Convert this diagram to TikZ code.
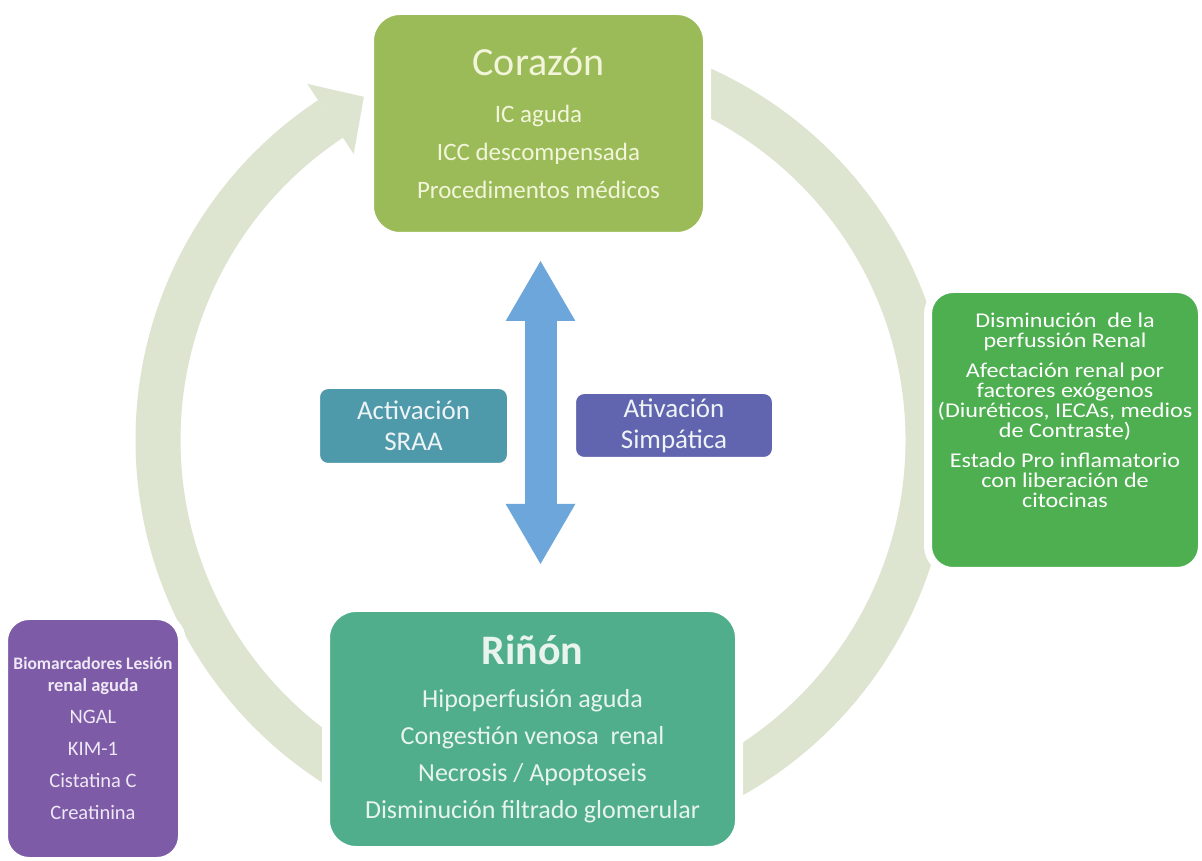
\documentclass[tikz,border=0pt]{standalone}
\usepackage{fontspec}
\setmainfont{Carlito}
\newfontfamily\widefont{Carlito}[FakeStretch=1.15]
\usetikzlibrary{arrows.meta}
\definecolor{ringc}{HTML}{DDE4D0}
\definecolor{corc}{HTML}{9BBB59}
\definecolor{cortxt}{HTML}{F2F5DA}
\definecolor{grnc}{HTML}{4DAF50}
\definecolor{rinc}{HTML}{50AE8C}
\definecolor{rintxt}{HTML}{E8F4EC}
\definecolor{purc}{HTML}{7D5BA6}
\definecolor{purtxt}{HTML}{EFE8F6}
\definecolor{sraac}{HTML}{4F9AAA}
\definecolor{simc}{HTML}{6165AF}
\definecolor{midtxt}{HTML}{EEF4F6}
\definecolor{dblc}{HTML}{6CA6DA}
\begin{document}
\begin{tikzpicture}[x=1pt,y=1pt,
  box/.style={rectangle, draw=white, line width=8pt, align=center, inner sep=0pt},
  ring/.style={ringc, line width=45pt},
  dbl/.style={dblc, line width=32pt, {Triangle[width=65pt,length=61pt]}-{Triangle[width=65pt,length=61pt]}}
]
\fill[white] (0,0) rectangle (1202,860);
\useasboundingbox (0,0) rectangle (1202,860);
% circular arrow
\coordinate (rc) at (543,420);
\draw[ring] (rc) ++(95:385) arc[start angle=95, end angle=-236.5, radius=385];
\fill[ringc] (307.3,776.1) -- (363.9,763.2) -- (353.7,706.0) -- cycle;
% boxes
\node[box, fill=corc, text=cortxt, minimum width=337, minimum height=225, rounded corners=30pt,
  font=\fontsize{25}{38}\selectfont] (cor) at (538.5,736.5)
  {{\fontsize{40}{40}\selectfont Corazón}\\[9pt] IC aguda\\ ICC descompensada\\ Procedimentos médicos};
\node[box, fill=grnc, text=white, minimum width=274, minimum height=282, rounded corners=25pt,
  font=\widefont\fontsize{21}{20}\selectfont] (fac) at (1065,430)
  {Disminución\ \ de la\\ perfussión Renal\\[10pt] Afectación renal por\\ factores exógenos\\ (Diuréticos, IECAs, medios\\ de Contraste)\\[10pt] Estado Pro inflamatorio\\ con liberación de\\ citocinas\rule[-40pt]{0pt}{0pt}};
\node[box, fill=rinc, text=rintxt, minimum width=413, minimum height=242, rounded corners=30pt,
  font=\fontsize{26}{37}\selectfont] (rin) at (532.5,131)
  {{\bfseries\fontsize{42}{42}\selectfont Riñón}\\[6pt] Hipoperfusión aguda\\ Congestión venosa\ \ renal\\ Necrosis / Apoptoseis\\ Disminución filtrado glomerular};
\node[box, fill=purc, text=purtxt, minimum width=178, minimum height=245, rounded corners=25pt,
  font=\fontsize{20.5}{32}\selectfont] (bio) at (93,121.5)
  {{\bfseries\fontsize{17.5}{22}\selectfont Biomarcadores Lesión}\\[-10pt] {\bfseries\fontsize{18.5}{22}\selectfont renal aguda}\\ NGAL\\ KIM-1\\ Cistatina C\\ Creatinina};
\node[box, fill=sraac, text=midtxt, minimum width=195, minimum height=82, rounded corners=12pt,
  font=\fontsize{27}{31}\selectfont] (sraa) at (413.5,434) {Activación\\ SRAA};
\node[box, fill=simc, text=midtxt, minimum width=204, minimum height=71, rounded corners=12pt,
  font=\fontsize{27}{31}\selectfont] (sim) at (674,434.5) {Ativación\\ Simpática};
% double arrow
\coordinate (dn) at (540.5,295);
\coordinate (up) at (540.5,600);
\draw[dbl] (dn) -- (up);
\end{tikzpicture}
\end{document}
